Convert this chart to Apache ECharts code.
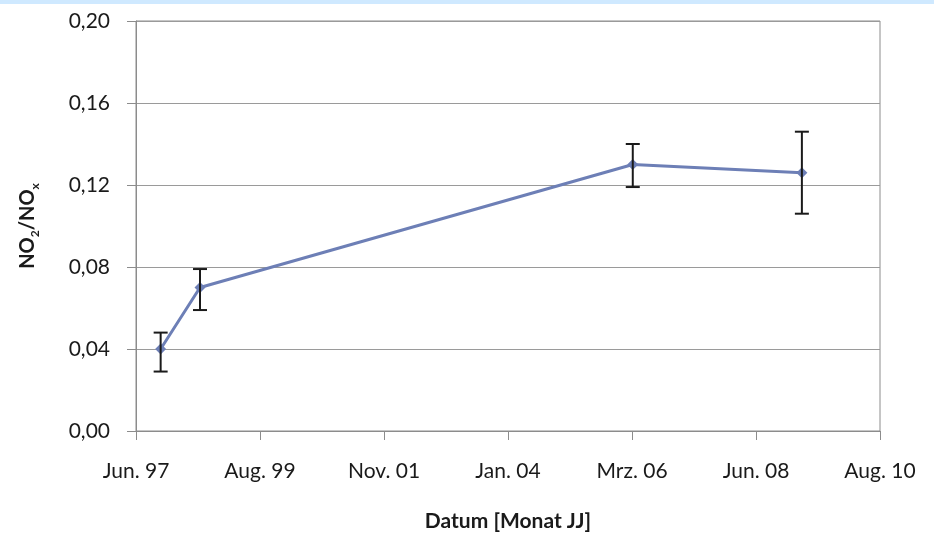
<!DOCTYPE html>
<html>
<head>
<meta charset="utf-8">
<script src="https://cdn.jsdelivr.net/npm/echarts@6/dist/echarts.min.js"></script>
<style>
  html, body { margin: 0; padding: 0; background: #fff; }
  #chart { width: 934px; height: 541px; }
</style>
</head>
<body>
<div id="chart"></div>
<script>
// axis starts here, one tick every 800 days
var baseDate = '1997-06-20';
var tickDays = 800;
var tickLabels = ['Jun. 97', 'Aug. 99', 'Nov. 01', 'Jan. 04', 'Mrz. 06', 'Jun. 08', 'Aug. 10'];

// Messzeitpunkte
var dates = ['1997-11-26', '1998-08-07', '2006-03-30', '2009-03-25'];
var ratio = [0.040, 0.070, 0.130, 0.126];
var errLow = [0.029, 0.059, 0.119, 0.106];
var errHigh = [0.048, 0.079, 0.140, 0.146];

function dayOffset(s) {
    return Math.round((Date.parse(s) - Date.parse(baseDate)) / 86400000);
}

var lineData = [];
var errData = [];
for (var i = 0; i < dates.length; i++) {
    var d = dayOffset(dates[i]);
    lineData.push([d, ratio[i]]);
    errData.push([d, errLow[i], errHigh[i]]);
}

var chart = echarts.init(document.getElementById('chart'));
var font = 'Lato, "Open Sans", sans-serif';

var option = {
    animation: false,
    backgroundColor: '#fff',
    textStyle: { fontFamily: font },
    graphic: [{
        type: 'rect',
        shape: { x: 0, y: 0, width: 934, height: 4 },
        style: { fill: '#cfe9ff' }
    }],
    grid: {
        left: 136, right: 54, top: 21, bottom: 110,
        show: true,
        borderColor: '#8c8c8c',
        borderWidth: 1
    },
    xAxis: {
        type: 'value',
        min: 0,
        max: tickDays * (tickLabels.length - 1),
        interval: tickDays,
        name: 'Datum [Monat JJ]',
        nameLocation: 'middle',
        nameGap: 80,
        nameTextStyle: { fontFamily: font, fontSize: 21, fontWeight: 'bold', color: '#1a1a1a' },
        axisLine: { show: true, lineStyle: { color: '#8c8c8c', width: 1 } },
        axisTick: { show: true, length: 9, lineStyle: { color: '#8c8c8c' } },
        axisLabel: {
            margin: 30,
            fontSize: 21,
            color: '#1a1a1a',
            formatter: function(v) {
                return tickLabels[Math.round(v / tickDays)] || '';
            }
        },
        splitLine: { show: false }
    },
    yAxis: {
        type: 'value',
        min: 0,
        max: 0.20,
        interval: 0.04,
        name: '{b|NO}{s|2}{b|/NO}{s|x}',
        nameLocation: 'middle',
        nameRotate: 90,
        nameGap: 95,
        nameTextStyle: {
            rich: {
                b: { fontFamily: font, fontSize: 20, fontWeight: 'bold', color: '#1a1a1a' },
                s: { fontFamily: font, fontSize: 12, fontWeight: 'bold', color: '#1a1a1a', padding: [14, 0, 0, 0] }
            }
        },
        axisLine: { show: true, lineStyle: { color: '#8c8c8c', width: 1 } },
        axisTick: { show: true, length: 9, lineStyle: { color: '#8c8c8c' } },
        axisLabel: {
            margin: 26,
            fontSize: 21,
            color: '#1a1a1a',
            formatter: function(v) {
                return v.toFixed(2).replace('.', ',');
            }
        },
        splitLine: { show: true, lineStyle: { color: '#9a9a9a', width: 1 } }
    },
    series: [{
        type: 'line',
        data: lineData,
        symbol: 'diamond',
        symbolSize: 11,
        lineStyle: { color: '#6d7fb6', width: 3 },
        itemStyle: { color: '#6d7fb6' },
        z: 3
    }, {
        type: 'custom',
        data: errData,
        z: 4,
        renderItem: function(params, api) {
            var x = api.value(0);
            var lo = api.coord([x, api.value(1)]);
            var hi = api.coord([x, api.value(2)]);
            var cap = 7;
            var st = { stroke: '#1a1a1a', lineWidth: 2 };
            return {
                type: 'group',
                children: [
                    { type: 'line', shape: { x1: lo[0], y1: lo[1], x2: hi[0], y2: hi[1] }, style: st },
                    { type: 'line', shape: { x1: lo[0] - cap, y1: lo[1], x2: lo[0] + cap, y2: lo[1] }, style: st },
                    { type: 'line', shape: { x1: hi[0] - cap, y1: hi[1], x2: hi[0] + cap, y2: hi[1] }, style: st }
                ]
            };
        }
    }]
};

chart.setOption(option);
</script>
</body>
</html>
